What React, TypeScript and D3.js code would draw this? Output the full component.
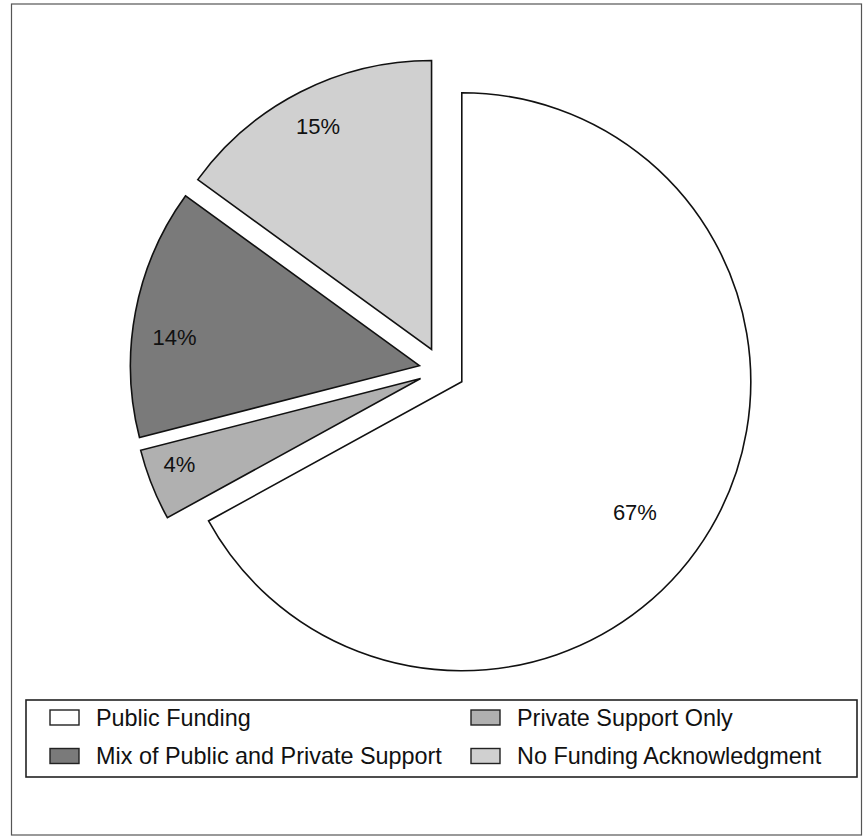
import React from "react";
import * as d3 from "d3";

const categories = [
  "Public Funding",
  "Private Support Only",
  "Mix of Public and Private Support",
  "No Funding Acknowledgment",
];
const values = [67, 4, 14, 15];
const labels = ["67%", "4%", "14%", "15%"];
const fills = ["#ffffff", "#b0b0b0", "#7a7a7a", "#d0d0d0"];

// label placement (layout, per slice): angle shift in degrees and radius fraction
const labelShiftDeg = [6.4, 2, -4.3, 0];
const labelRadiusFrac = [0.75, 0.886, 0.853, 0.865];

const W = 867;
const H = 838;
const CX = 442;
const CY = 370;
const R = 289;
const EXPLODE = 23;
const FONT = "'Liberation Sans', Arial, Helvetica, sans-serif";

export default function App() {
  const pie = d3
    .pie<number>()
    .sort(null)
    .startAngle(0)
    .endAngle(2 * Math.PI)
    .value((d) => d);
  const arcs = pie(values);
  const arc = d3.arc<d3.PieArcDatum<number>>().innerRadius(0).outerRadius(R);

  const legendX = [50, 471];
  const legendY = [717.5, 756];

  return (
    <svg
      width={W}
      height={H}
      viewBox={`0 0 ${W} ${H}`}
      style={{ position: "absolute", left: 0, top: 0, background: "#fff" }}
    >
      <rect x={11.5} y={4} width={850} height={831} fill="#fff" stroke="#555" strokeWidth={1.2} />
      {arcs.map((a, i) => {
        const mid = (a.startAngle + a.endAngle) / 2;
        const dx = Math.sin(mid) * EXPLODE;
        const dy = -Math.cos(mid) * EXPLODE;
        const la = mid + (labelShiftDeg[i] * Math.PI) / 180;
        const lr = R * labelRadiusFrac[i];
        const lx = Math.sin(la) * lr;
        const ly = -Math.cos(la) * lr;
        return (
          <g key={i} transform={`translate(${CX + dx},${CY + dy})`}>
            <path d={arc(a) || ""} fill={fills[i]} stroke="#111" strokeWidth={1.6} strokeLinejoin="miter" />
            <text
              x={lx}
              y={ly}
              textAnchor="middle"
              dominantBaseline="central"
              fontFamily={FONT}
              fontSize={22}
              fill="#111"
            >
              {labels[i]}
            </text>
          </g>
        );
      })}
      <rect x={26} y={700} width={831} height={77} fill="#fff" stroke="#222" strokeWidth={1.6} />
      {categories.map((c, k) => {
        const col = k % 2;
        const row = Math.floor(k / 2);
        const x = legendX[col];
        const y = legendY[row];
        return (
          <g key={c}>
            <rect x={x} y={y - 7.5} width={29} height={15} fill={fills[k]} stroke="#222" strokeWidth={1.4} />
            <text x={x + 46} y={y} dominantBaseline="central" fontFamily={FONT} fontSize={23.4} fill="#111">
              {c}
            </text>
          </g>
        );
      })}
    </svg>
  );
}
